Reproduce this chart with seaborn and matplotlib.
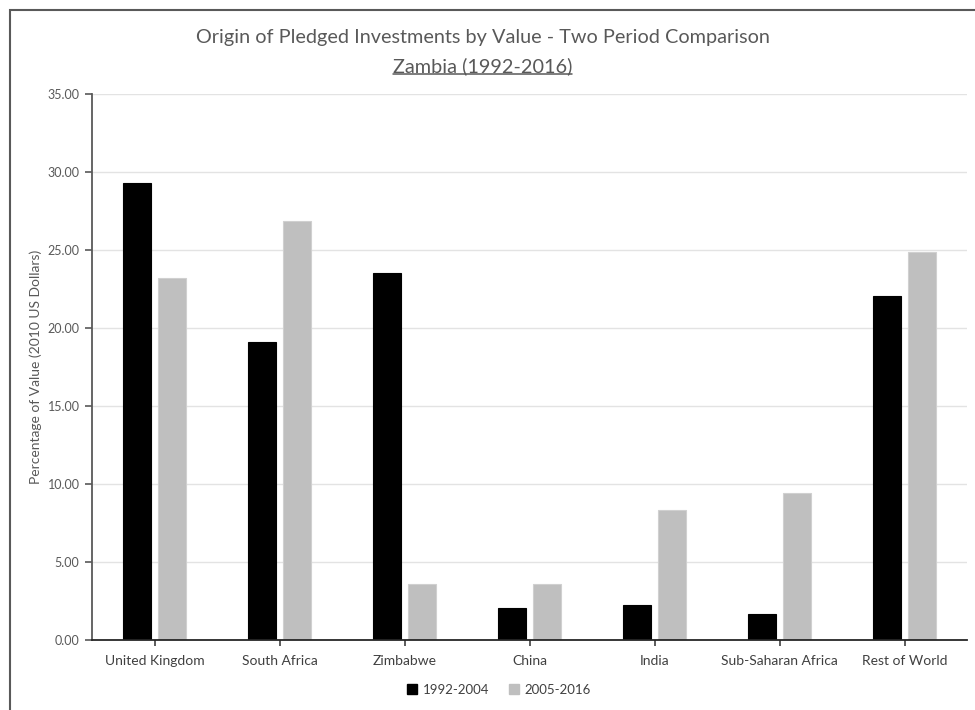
import matplotlib
matplotlib.use("Agg")
import matplotlib.pyplot as plt
from matplotlib.lines import Line2D
from matplotlib.patches import Rectangle
import seaborn as sns
import pandas as pd

origins = ["United Kingdom", "South Africa", "Zimbabwe", "China", "India",
           "Sub-Saharan Africa", "Rest of World"]
period_1992_2004 = [29.30, 19.10, 23.50, 2.03, 2.24, 1.65, 22.05]
period_2005_2016 = [23.20, 26.86, 3.60, 3.62, 8.35, 9.40, 24.87]
periods = ["1992-2004", "2005-2016"]
y_ticks = [0, 5, 10, 15, 20, 25, 30, 35]

df = pd.DataFrame({
    "origin": origins * 2,
    "value": period_1992_2004 + period_2005_2016,
    "period": [periods[0]] * len(origins) + [periods[1]] * len(origins),
})

sns.set_theme(style="white")
plt.rcParams["font.family"] = ["Lato", "DejaVu Sans"]

colors = ["#000000", "#BFBFBF"]
edges = ["#000000", "#D0D0D0"]

fig = plt.figure(figsize=(9.75, 7.1), dpi=100)
ax = fig.add_axes([92 / 975, 70 / 710, 875 / 975, 546 / 710])

sns.barplot(data=df, x="origin", y="value", hue="period", palette=colors,
            width=0.56, gap=0.2, ax=ax, legend=False, saturation=1)
for cont, ec in zip(ax.containers, edges):
    for bar in cont:
        bar.set_edgecolor(ec)
        bar.set_linewidth(0.8)

ax.set_ylim(0, 35)
ax.set_xlim(-0.5, len(origins) - 0.5)
ax.set_yticks(y_ticks)
ax.set_yticklabels([f"{t:.2f}" for t in y_ticks])
ax.yaxis.grid(True, color="#E3E3E3", linewidth=1)
ax.set_axisbelow(True)

for side in ["top", "right"]:
    ax.spines[side].set_visible(False)
ax.spines["left"].set_color("#595959")
ax.spines["left"].set_linewidth(1.3)
ax.spines["bottom"].set_color("#262626")
ax.spines["bottom"].set_linewidth(1.3)

ax.tick_params(axis="y", left=True, length=5, width=1.2, color="#595959",
               labelsize=9, labelcolor="#595959", pad=4)
ax.tick_params(axis="x", bottom=True, length=4, width=1.2, color="#404040",
               labelsize=10, labelcolor="#404040", pad=7)
ax.set_xlabel("")
ax.set_ylabel("Percentage of Value (2010 US Dollars)", fontsize=10,
              color="#595959", labelpad=4)

fig.text(0.495, 1 - 37 / 710, "Origin of Pledged Investments by Value - Two Period Comparison",
         ha="center", va="center", fontsize=14.3, color="#595959")
sub = fig.text(0.495, 1 - 66 / 710, "Zambia (1992-2016)",
               ha="center", va="center", fontsize=14.3, color="#595959")

fig.canvas.draw()
bb = sub.get_window_extent().transformed(fig.transFigure.inverted())
fig.add_artist(Line2D([bb.x0, bb.x1], [bb.y0 + 0.002, bb.y0 + 0.002],
                      transform=fig.transFigure, color="#595959", linewidth=1.1))

# frame around the chart area
fig.add_artist(Rectangle((10 / 975, -0.05), 1.0, 1 - 10 / 710 + 0.05,
                         transform=fig.transFigure, fill=False,
                         edgecolor="#595959", linewidth=1.5))

handles = [Line2D([], [], marker="s", linestyle="", markersize=6.5,
                  markerfacecolor=c, markeredgecolor=c) for c in colors]
fig.legend(handles, periods, loc="center", bbox_to_anchor=(499 / 975, 20 / 710),
           ncol=2, frameon=False, fontsize=9.5, labelcolor="#404040",
           handletextpad=0.45, columnspacing=1.4, handlelength=0.8)

fig.savefig("out.png", dpi=100, facecolor="white")
